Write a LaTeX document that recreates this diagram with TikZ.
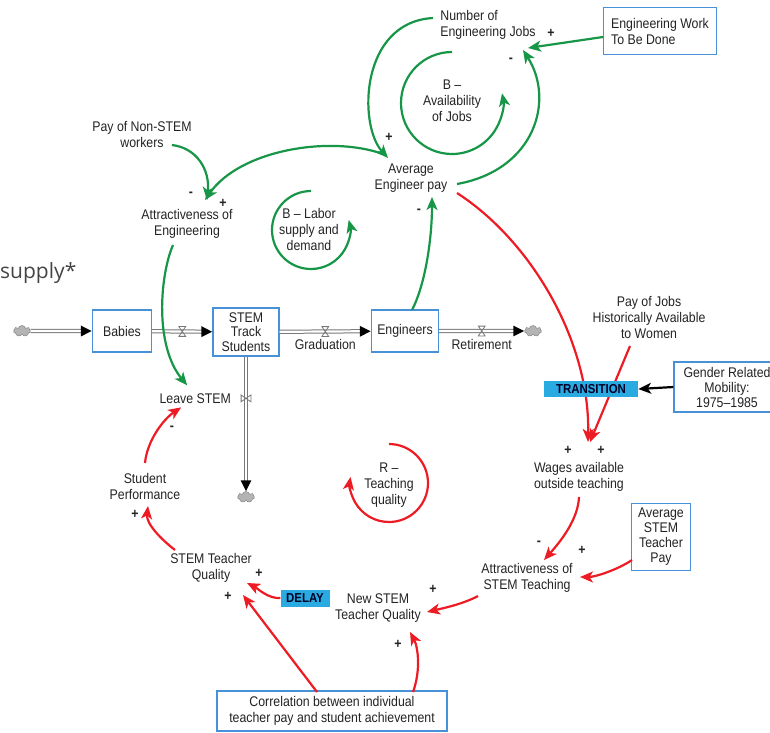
\documentclass[tikz,border=0pt]{standalone}
\usepackage{fontspec}
\setmainfont{Liberation Sans}[FakeStretch=0.88]
\newfontfamily\titlefont{Open Sans}
\usepackage{tikz}
\usetikzlibrary{arrows.meta, positioning, calc, decorations.markings, shapes.symbols, backgrounds}
\usepackage{xcolor}
\definecolor{loopgreen}{RGB}{22,150,70}
\definecolor{linkred}{RGB}{237,28,36}
\definecolor{boxblue}{RGB}{70,145,215}
\definecolor{tagcyan}{RGB}{41,171,226}
\definecolor{ink}{RGB}{35,35,35}
\definecolor{pipegray}{RGB}{120,120,120}
\definecolor{cloudgray}{RGB}{180,180,180}

\begin{document}
\begin{tikzpicture}[
    x=1pt, y=-1pt,
    lbl/.style={font=\fontsize{14}{16}\selectfont, text=ink, align=center, inner sep=1pt},
    stock/.style={lbl, draw=boxblue, line width=1.2pt, fill=white, inner sep=2pt},
    tag/.style={fill=tagcyan, font=\bfseries\fontsize{13}{13}\selectfont, text=black!85!blue, inner sep=0pt},
    sgn/.style={font=\bfseries\fontsize{14}{14}\selectfont, text=ink, inner sep=0pt},
    garr/.style={-{Stealth[length=13pt, width=11pt, inset=3.5pt]}, draw=loopgreen, line width=2.2pt},
    rarr/.style={garr, draw=linkred},
    karr/.style={garr, draw=black},
    pipe/.style={draw=pipegray, double=white, double distance=2.2pt, line width=1pt, shorten >=6pt,
                 postaction={decorate, decoration={markings, mark=at position 1 with {\arrow[black]{Triangle[length=11pt, width=10pt]}}}}},
    sink/.style={cloud, cloud puffs=7, draw=pipegray, fill=cloudgray, minimum width=17pt, minimum height=11pt, inner sep=0pt},
    hvalve/.style={minimum width=8pt, minimum height=11pt, inner sep=0pt,
                   path picture={\draw[pipegray, line width=0.8pt]
                     ([shift={(0.6pt,-0.6pt)}]path picture bounding box.north west) -- ([shift={(-0.6pt,-0.6pt)}]path picture bounding box.north east)
                     -- ([shift={(0.6pt,0.6pt)}]path picture bounding box.south west) -- ([shift={(-0.6pt,0.6pt)}]path picture bounding box.south east) -- cycle;}},
    vvalve/.style={minimum width=11pt, minimum height=8pt, inner sep=0pt,
                   path picture={\draw[pipegray, line width=0.8pt]
                     ([shift={(0.6pt,-0.6pt)}]path picture bounding box.north west) -- ([shift={(0.6pt,0.6pt)}]path picture bounding box.south west)
                     -- ([shift={(-0.6pt,-0.6pt)}]path picture bounding box.north east) -- ([shift={(-0.6pt,0.6pt)}]path picture bounding box.south east) -- cycle;}},
]
    \useasboundingbox (0,0) rectangle (770,732);

    \node[font=\titlefont\fontsize{21}{21}\selectfont, text=ink!85, anchor=west, inner sep=0pt] (title) at (0,273) {supply*};

    \node[lbl, align=left] (njobs) at (488,25) {Number of\\Engineering Jobs};
    \node[stock, align=left, minimum width=113pt, minimum height=47pt] (work) at (660,31) {Engineering Work\\To Be Done};
    \node[lbl] (avgpay) at (411,178) {Average\\Engineer pay};
    \node[lbl] (paynon) at (142,134) {Pay of Non-STEM\\workers};
    \node[lbl] (attreng) at (187,224) {Attractiveness of\\Engineering};
    \node[lbl] (bavail) at (452,101) {B --\\Availability\\of Jobs};
    \node[lbl] (blabor) at (309,229) {B -- Labor\\supply and\\demand};

    \node[stock, minimum width=59pt, minimum height=42pt] (babies) at (122,331) {Babies};
    \node[stock, minimum width=66pt, minimum height=48pt, font=\fontsize{14}{14.5}\selectfont] (stemtrack) at (246,332) {STEM\\Track\\Students};
    \node[stock, minimum width=67pt, minimum height=42pt] (engineers) at (405,331) {Engineers};
    \node[sink] (cloudl) at (22,331) {};
    \node[sink] (cloudr) at (533,331) {};
    \node[sink] (cloudb) at (246,497) {};

    \node[lbl] (payjobs) at (649,317) {Pay of Jobs\\Historically Available\\to Women};
    \node[stock, minimum width=106pt, minimum height=50pt, font=\fontsize{14}{15}\selectfont] (gender) at (727,387) {Gender Related\\Mobility:\\1975--1985};
    \node[lbl] (wages) at (579,477) {Wages available\\outside teaching};
    \node[lbl] (attrteach) at (527,578) {Attractiveness of\\STEM Teaching};
    \node[stock, minimum width=59pt, minimum height=67pt, font=\fontsize{14}{15}\selectfont] (avgteach) at (661,537) {Average\\STEM\\Teacher\\Pay};
    \node[lbl] (newq) at (378,608) {New STEM\\Teacher Quality};
    \node[lbl] (teachq) at (211,568) {STEM Teacher\\Quality};
    \node[lbl] (perf) at (145,486) {Student\\Performance};
    \node[lbl] (rloop) at (389,485) {R --\\Teaching\\quality};
    \node[stock, minimum width=230pt, minimum height=40pt] (corr) at (332,711) {Correlation between individual\\teacher pay and student achievement};

    \draw[pipe] (cloudl) -- (babies);
    \draw[pipe] (babies) -- node[hvalve, pos=0.5] (vbirth) {} (stemtrack);
    \draw[pipe] (stemtrack) -- node[hvalve, pos=0.5] (vgrad) {} (engineers);
    \draw[pipe] (engineers) -- node[hvalve, pos=0.5] (vretire) {} (cloudr);
    \draw[pipe] (stemtrack) -- node[vvalve, pos=0.31] (vleave) {} (cloudb);
    \node[lbl, below=1pt of vgrad] (graduation) {Graduation};
    \node[lbl, below=1pt of vretire] (retirement) {Retirement};
    \node[lbl, left=8pt of vleave] (leave) {Leave STEM};

    \draw[garr] (452,52) arc[start angle=270, end angle=-11, radius=51];
    \draw[garr] (311,191) arc[start angle=270, end angle=-15, radius=39];
    \draw[rarr] (389,444) arc[start angle=270, end angle=549, radius=39];

    \draw[garr] ($(work.west)+(0,6)$) -- ($(njobs)+(40,23)$);
    \draw[garr] ($(njobs)+(-55,-7)$) .. controls +(-73,4) and +(-30,-33) .. ($(avgpay)+(-23,-20)$);
    \draw[garr] ($(avgpay)+(46,6)$) .. controls +(78,-14) and +(32,50) .. ($(njobs)+(35,25)$);
    \draw[garr] ($(avgpay)+(-28,-24)$) .. controls +(-53,-19) and +(35,-50) .. ($(attreng)+(18,-24)$);
    \draw[garr] ($(paynon)+(30,11)$) .. controls +(25,3) and +(3,-30) .. ($(attreng)+(20,-24)$);
    \draw[garr] ($(attreng)+(-14,21)$) .. controls +(-13,30) and +(-33,-40) .. ($(leave)+(-8,-13)$);
    \draw[garr] ($(engineers)+(7,-21)$) .. controls +(13,-25) and +(0,43) .. ($(avgpay)+(21,19)$);

    \begin{scope}[on background layer]
    \draw[rarr] ($(avgpay)+(46,15)$) .. controls +(73,47) and +(2,-102) .. ($(wages)+(9,-35)$);
    \draw[rarr] ($(payjobs)+(-19,29)$) -- ($(wages)+(11,-35)$);
    \end{scope}
    \node[tag, minimum width=94pt, minimum height=16pt] (transition) at (591,389) {TRANSITION};
    \node[tag, minimum width=49pt, minimum height=17pt] (delay) at (305,598) {DELAY};
    \draw[karr] (gender.west) -- (transition.east);

    \draw[rarr] ($(wages)+(0,20)$) .. controls +(-1,23) and +(16,-18) .. ($(attrteach)+(17,-18)$);
    \draw[rarr] ($(avgteach)+(-29,23)$) .. controls +(-15,10) and +(15,0) .. ($(attrteach)+(53,-1)$);
    \draw[rarr] ($(attrteach)+(-49,18)$) .. controls +(-15,8) and +(17,-4) .. ($(newq)+(49,4)$);
    \draw[rarr] ($(corr)+(81,-19)$) .. controls +(8,-22) and +(8,15) .. ($(newq)+(32,24)$);
    \draw[rarr] (delay.west) .. controls +(-12,1) and +(10,5) .. ($(teachq)+(36,15)$);
    \draw[rarr] ($(corr)+(-15,-19)$) -- ($(teachq)+(32,27)$);
    \draw[rarr] ($(teachq)+(-36,-18)$) .. controls +(-13,-10) and +(-2,18) .. ($(perf)+(3,20)$);
    \draw[rarr] ($(perf)+(0,-23)$) .. controls +(2,-22) and +(-18,12) .. ($(leave)+(-14,9)$);

    \node[sgn] (sworkjobs) at (551,33) {+};
    \node[sgn] (spayjobs) at (511,60) {-};
    \node[sgn] (sjobspay) at (389,137) {+};
    \node[sgn] (snonattr) at (191,194) {-};
    \node[sgn] (spayattr) at (223,203) {+};
    \node[sgn] (sengpay) at (419,211) {-};
    \node[sgn] (sengwage) at (568,450) {+};
    \node[sgn] (swomwage) at (601,450) {+};
    \node[sgn] (swageattr) at (539,543) {-};
    \node[sgn] (steachattr) at (582,550) {+};
    \node[sgn] (sattrnew) at (433,589) {+};
    \node[sgn] (scorrnew) at (398,644) {+};
    \node[sgn] (sdelayq) at (259,573) {+};
    \node[sgn] (scorrq) at (228,596) {+};
    \node[sgn] (sqperf) at (135,514) {+};
    \node[sgn] (sperfleave) at (172,428) {-};
\end{tikzpicture}
\end{document}
